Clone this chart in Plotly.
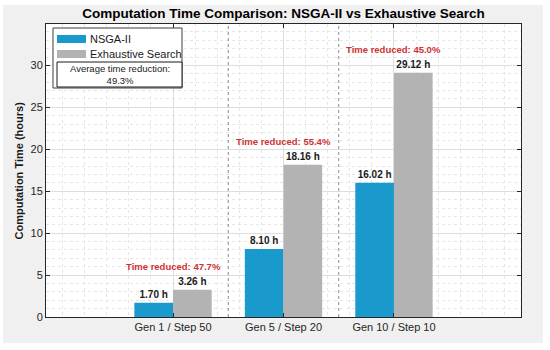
import plotly.graph_objects as go

# ---------------- data ----------------
categories = ["Gen 1 / Step 50", "Gen 5 / Step 20", "Gen 10 / Step 10"]
nsga_hours = [1.70, 8.10, 16.02]
exhaustive_hours = [3.26, 18.16, 29.12]
time_reduction_pct = [47.7, 55.4, 45.0]
average_reduction_pct = 49.3
y_ticks = [0, 5, 10, 15, 20, 25, 30]
x_pos = [1, 2, 3]

# ---------------- styling ----------------
W, H = 550, 350
L, R, T, B = 46, 521, 24, 317          # plot area in pixels
FONT = "Liberation Sans, Arial, Helvetica, sans-serif"
BLUE = "#1a99cc"
GRAY = "#b3b3b3"
RED = "#cc3333"
AX = "#262626"


def px(xp):
    return (xp - L) / (R - L)


def py(yp):
    return (B - yp) / (B - T)


fig = go.Figure()
fig.add_trace(go.Bar(
    x=x_pos, y=nsga_hours, name="NSGA-II", marker=dict(color=BLUE, line=dict(width=0)),
    texttemplate="<b>%{y:.2f} h</b>", textposition="outside", constraintext="none",
    textfont=dict(size=10, color="#1a1a1a", family=FONT), cliponaxis=False,
))
fig.add_trace(go.Bar(
    x=x_pos, y=exhaustive_hours, name="Exhaustive Search", marker=dict(color=GRAY, line=dict(width=0)),
    texttemplate="<b>%{y:.2f} h</b>", textposition="outside", constraintext="none",
    textfont=dict(size=10, color="#1a1a1a", family=FONT), cliponaxis=False,
))

shapes = []
# figure gray panel + white plot area
shapes.append(dict(type="rect", xref="paper", yref="paper", x0=px(3), x1=px(543), y0=py(343), y1=py(5),
                   fillcolor="#f0f0f0", line=dict(width=0), layer="below"))
shapes.append(dict(type="rect", xref="paper", yref="paper", x0=0, x1=1, y0=0, y1=1,
                   fillcolor="white", line=dict(width=0), layer="below"))
# group separators
for xs in [1.5, 2.5]:
    shapes.append(dict(type="line", xref="x", yref="paper", x0=xs, x1=xs, y0=0, y1=1,
                       line=dict(color="#8c8c8c", width=1, dash="dot"), layer="above"))
# custom legend
shapes.append(dict(type="rect", xref="paper", yref="paper", x0=px(53), x1=px(182), y0=py(88), y1=py(28),
                   fillcolor="white", line=dict(color="#3c3c3c", width=1), layer="above"))
shapes.append(dict(type="rect", xref="paper", yref="paper", x0=px(57), x1=px(86), y0=py(43), y1=py(35),
                   fillcolor=BLUE, line=dict(width=0), layer="above"))
shapes.append(dict(type="rect", xref="paper", yref="paper", x0=px(57), x1=px(86), y0=py(58), y1=py(50),
                   fillcolor=GRAY, line=dict(width=0), layer="above"))
shapes.append(dict(type="rect", xref="paper", yref="paper", x0=px(57), x1=px(182), y0=py(87), y1=py(62),
                   fillcolor="white", line=dict(color="#1a1a1a", width=1), layer="above"))

annotations = []
for xi, n, e, red in zip(x_pos, nsga_hours, exhaustive_hours, time_reduction_pct):
    annotations.append(dict(x=xi, y=max(n, e) + 2.75, xref="x", yref="y",
                            text=f"<b>Time reduced: {red:.1f}%</b>", showarrow=False,
                            font=dict(size=9.5, color=RED, family=FONT), yanchor="middle"))
annotations.append(dict(x=px(88), y=py(39), xref="paper", yref="paper", text="NSGA-II",
                        showarrow=False, xanchor="left", yanchor="middle",
                        font=dict(size=11, color="#1a1a1a", family=FONT)))
annotations.append(dict(x=px(88), y=py(54), xref="paper", yref="paper", text="Exhaustive Search",
                        showarrow=False, xanchor="left", yanchor="middle",
                        font=dict(size=11, color="#1a1a1a", family=FONT)))
annotations.append(dict(x=px(119.5), y=py(74.5), xref="paper", yref="paper",
                        text=f"Average time reduction:<br>{average_reduction_pct:.1f}%",
                        showarrow=False, xanchor="center", yanchor="middle",
                        font=dict(size=9.5, color="#1a1a1a", family=FONT)))
annotations.append(dict(x=px(18), y=py((T + B) / 2), xref="paper", yref="paper",
                        text="<b>Computation Time (hours)</b>", textangle=-90, showarrow=False,
                        xanchor="center", yanchor="middle",
                        font=dict(size=11, color="#1a1a1a", family=FONT)))

fig.update_layout(
    width=W, height=H,
    margin=dict(l=L, r=W - R, t=T, b=H - B, pad=0),
    paper_bgcolor="white", plot_bgcolor="white",
    barmode="group", bargap=0.3, bargroupgap=0,
    showlegend=False,
    font=dict(family=FONT, size=11, color=AX),
    title=dict(text="<b>Computation Time Comparison: NSGA-II vs Exhaustive Search</b>",
               x=((L + R) / 2) / W, xref="container", xanchor="center",
               y=1 - 13 / H, yref="container", yanchor="middle",
               font=dict(size=13.5, color="#000000", family=FONT)),
    xaxis=dict(range=[-0.15, 4.15], tickvals=x_pos, ticktext=categories,
               showgrid=True, gridcolor="#dedede", gridwidth=1, zeroline=False,
               showline=True, linecolor=AX, linewidth=1, mirror="ticks",
               ticks="inside", ticklen=4, tickcolor=AX,
               tickfont=dict(size=11, color=AX, family=FONT),
               minor=dict(dtick=0.2, tick0=0, showgrid=True, gridcolor="#e6e6e6",
                          griddash="dot", gridwidth=1, ticks="")),
    yaxis=dict(range=[0, max(exhaustive_hours) * 1.2], tickvals=y_ticks,
               showgrid=True, gridcolor="#dedede", gridwidth=1, zeroline=False,
               showline=True, linecolor=AX, linewidth=1, mirror="ticks",
               ticks="inside", ticklen=4, tickcolor=AX,
               tickfont=dict(size=11, color=AX, family=FONT),
               minor=dict(dtick=1, tick0=0, showgrid=True, gridcolor="#e6e6e6",
                          griddash="dot", gridwidth=1, ticks="")),
    shapes=shapes, annotations=annotations,
)

fig.write_html("out.html", config={"displayModeBar": False, "staticPlot": True},
               post_script="document.body.style.margin='0px';")
